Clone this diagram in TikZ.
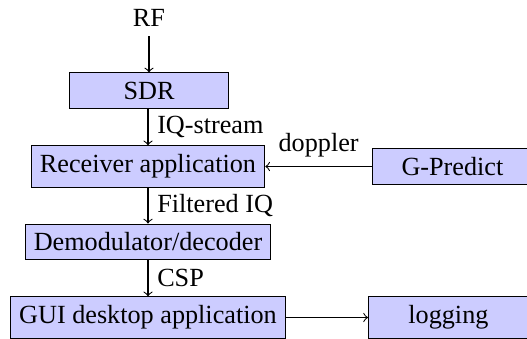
\documentclass[tikz,border=0pt]{standalone}
\usepackage{fontspec}
\setmainfont{Liberation Serif}
\begin{document}
\begin{tikzpicture}[
  x=0.3817pt, y=-0.3817pt,
  font=\fontsize{10}{12}\selectfont,
  block/.style={draw=black, fill=blue!20, minimum width=61pt},
  flow/.style={->},
  lbl/.style={font=\fontsize{10}{12}\selectfont}
]
  \useasboundingbox (0,0) rectangle (527,339);

  % signal chain
  \node (rf) at (149,18.3) {RF};
  \node[block] (sdr) at (149,90.5) {SDR};
  \node[block] (rx) at (148,166.5) {Receiver application};
  \node[block] (demod) at (148,242) {Demodulator/decoder};
  \node[block] (gui) at (148,317.5) {GUI desktop application};

  % side blocks
  \node[block, anchor=west] (gpredict) at (372,166.5) {G-Predict};
  \node[block, anchor=west] (log) at (368,317.5) {logging};

  % connections
  \draw[flow] (rf) -- (sdr);
  \draw[flow] (sdr.south -| rx) -- node[right, lbl] {IQ-stream} (rx);
  \draw[flow] (rx) -- node[right, lbl] {Filtered IQ} (demod);
  \draw[flow] (demod) -- node[right, lbl] {CSP} (gui);
  \draw[flow] (gpredict) -- node[above, lbl] {doppler} (rx);
  \draw[flow] (gui) -- (log);
\end{tikzpicture}
\end{document}
